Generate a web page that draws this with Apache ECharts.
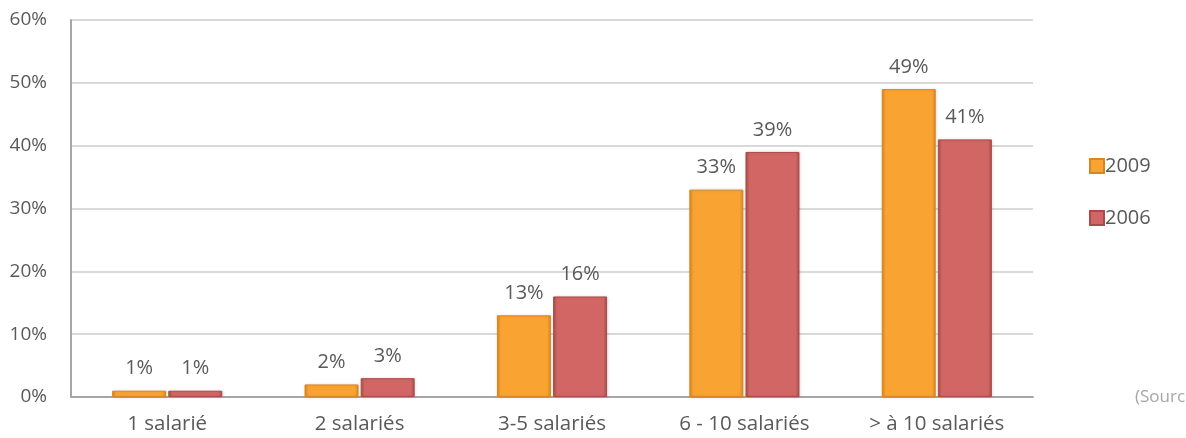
<!DOCTYPE html>
<html>
<head>
<meta charset="utf-8">
<script src="https://cdn.jsdelivr.net/npm/echarts@6/dist/echarts.min.js"></script>
<style>
  html, body { margin: 0; padding: 0; background: #fff; }
  #chart { width: 1186px; height: 438px; }
</style>
</head>
<body>
<div id="chart"></div>
<script>
// Share of firms by number of employees
const categories = ['1 salarié', '2 salariés', '3-5 salariés', '6 - 10 salariés', '> à 10 salariés'];
const values2009 = [1, 2, 13, 33, 49];
const values2006 = [1, 3, 16, 39, 41];
const seriesNames = ['2009', '2006'];
const yTicks = [0, 10, 20, 30, 40, 50, 60];

const font = '"Open Sans", "Noto Sans", sans-serif';
const textColor = '#595959';

function barStyle(mid, dark) {
  return {
    color: new echarts.graphic.LinearGradient(0, 0, 1, 0, [
      { offset: 0, color: dark },
      { offset: 0.07, color: mid },
      { offset: 0.93, color: mid },
      { offset: 1, color: dark }
    ]),
    borderColor: dark,
    borderWidth: 1,
    shadowColor: 'rgba(0,0,0,0.12)',
    shadowBlur: 3,
    shadowOffsetX: 1,
    shadowOffsetY: 0
  };
}

const label = {
  show: true,
  position: 'top',
  distance: 12,
  color: textColor,
  fontFamily: font,
  fontSize: 20,
  formatter: p => p.value + '%'
};

const chart = echarts.init(document.getElementById('chart'), null, { renderer: 'canvas' });
chart.setOption({
  animation: false,
  backgroundColor: '#ffffff',
  grid: { left: 71, right: 153, top: 20, bottom: 41, containLabel: false },
  legend: {
    orient: 'vertical',
    left: 1084,
    top: 151,
    itemWidth: 14,
    itemHeight: 14,
    itemGap: 32,
    icon: 'rect',
    textStyle: { color: textColor, fontFamily: font, fontSize: 20, padding: [0, 0, 0, -4] },
    data: seriesNames
  },
  xAxis: {
    type: 'category',
    data: categories,
    axisTick: { show: false },
    axisLine: { lineStyle: { color: '#a6a6a6', width: 2 } },
    axisLabel: { color: textColor, fontFamily: font, fontSize: 20.5, margin: 17 }
  },
  yAxis: {
    type: 'value',
    min: yTicks[0],
    max: yTicks[yTicks.length - 1],
    interval: 10,
    axisLine: { show: true, lineStyle: { color: '#a6a6a6', width: 2 } },
    axisTick: { show: false },
    splitLine: { lineStyle: { color: '#d9d9d9', width: 2 } },
    axisLabel: { color: textColor, fontFamily: font, fontSize: 19, margin: 24, formatter: v => v + '%' }
  },
  series: [
    {
      name: seriesNames[0],
      type: 'bar',
      data: values2009,
      barWidth: 54,
      barGap: '4%',
      itemStyle: barStyle('#f9a333', '#d9861f'),
      label: label
    },
    {
      name: seriesNames[1],
      type: 'bar',
      data: values2006,
      barWidth: 54,
      itemStyle: barStyle('#d26664', '#a84c4a'),
      label: label
    }
  ],
  graphic: [
    {
      type: 'text',
      left: 1135,
      top: 389,
      style: { text: '(Source', fill: '#a6a6a6', font: '17px ' + font }
    }
  ]
});
</script>
</body>
</html>
